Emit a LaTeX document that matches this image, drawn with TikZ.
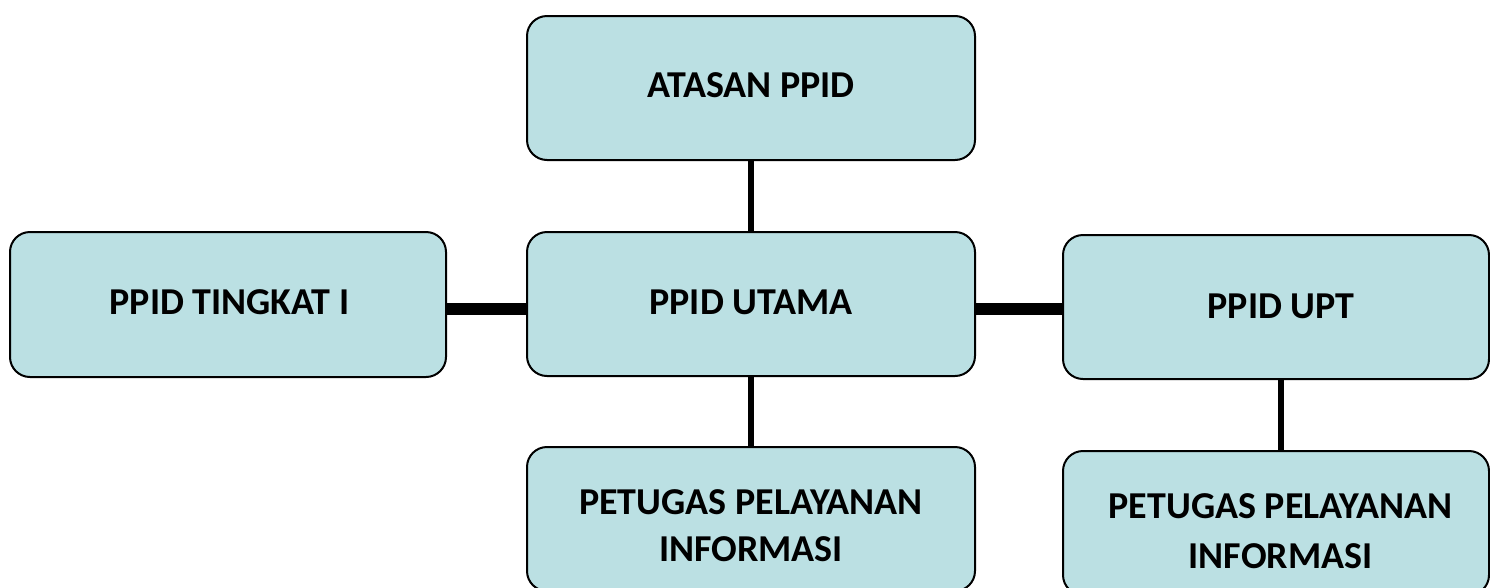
\documentclass[tikz,border=0pt]{standalone}
\usepackage{fontspec}
\setmainfont{Carlito}
\definecolor{boxfill}{RGB}{187,224,227}
\tikzset{
  orgbox/.style={draw=black, line width=2pt, fill=boxfill, rounded corners=20pt, inner sep=0pt},
  lbl/.style={inner sep=0pt, align=center, font=\fontsize{38}{47}\selectfont\bfseries},
  thinlink/.style={line width=5.5pt, line cap=butt},
  thicklink/.style={line width=12pt, line cap=butt}
}
\begin{document}
\begin{tikzpicture}[x=1pt,y=-1pt]
\useasboundingbox (0,0) rectangle (1490,587);
\clip (0,0) rectangle (1490,587);
\fill[white] (0,0) rectangle (1490,587);
% boxes
\node[orgbox, minimum width=448pt, minimum height=144pt] (atasan) at (751,88) {};
\node[orgbox, minimum width=436pt, minimum height=145pt] (tingkat) at (228,304.5) {};
\node[orgbox, minimum width=448pt, minimum height=144pt] (utama) at (751,304) {};
\node[orgbox, minimum width=426pt, minimum height=144pt] (upt) at (1276,307) {};
\node[orgbox, minimum width=448pt, minimum height=144pt] (pet1) at (751,519) {};
\node[orgbox, minimum width=426pt, minimum height=144pt] (pet2) at (1276,523) {};
% labels
\node[lbl] (tatasan) at (751,85) {ATASAN PPID};
\node[lbl] (ttingkat) at (229.5,302) {PPID TINGKAT I};
\node[lbl] (tutama) at (751,302) {PPID UTAMA};
\node[lbl] (tupt) at (1281,306) {PPID UPT};
\node[lbl] (tpet1) at (751,525.5) {PETUGAS PELAYANAN\\INFORMASI};
\node[lbl, font=\fontsize{38}{50}\selectfont\bfseries] (tpet2) at (1280.5,531) {PETUGAS PELAYANAN\\INFORMASI};
% connectors
\coordinate (hline) at (0,309);
\coordinate (vright) at (1281,0);
\draw[thinlink] (atasan.south) -- (utama.north);
\draw[thicklink] (tingkat.east |- hline) -- (utama.west |- hline);
\draw[thicklink] (utama.east |- hline) -- (upt.west |- hline);
\draw[thinlink] (utama.south) -- (pet1.north);
\draw[thinlink] (upt.south -| vright) -- (pet2.north -| vright);
\end{tikzpicture}
\end{document}
